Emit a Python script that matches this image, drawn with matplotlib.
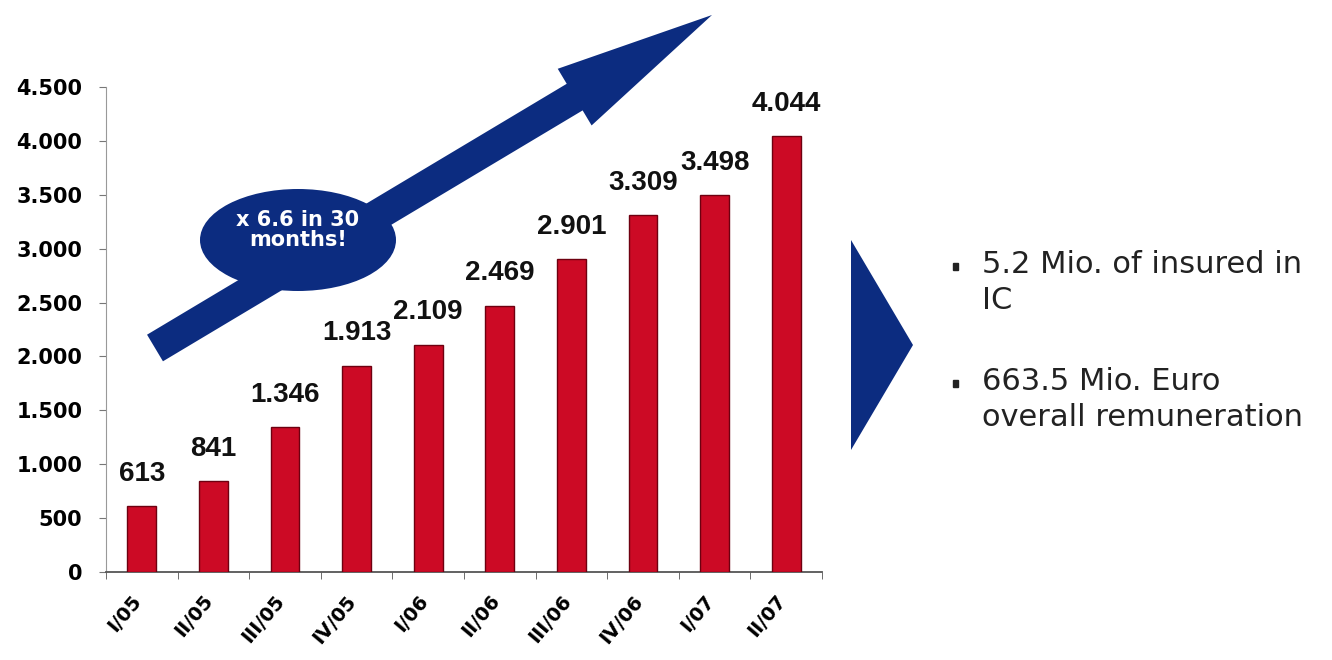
import numpy as np
import matplotlib.pyplot as plt
from matplotlib.patches import Ellipse, FancyArrow, Polygon

# data
quarters = ["I/05", "II/05", "III/05", "IV/05", "I/06", "II/06", "III/06", "IV/06", "I/07", "II/07"]
values = [613, 841, 1346, 1913, 2109, 2469, 2901, 3309, 3498, 4044]
value_labels = ["613", "841", "1.346", "1.913", "2.109", "2.469", "2.901", "3.309", "3.498", "4.044"]
yticks = [0, 500, 1000, 1500, 2000, 2500, 3000, 3500, 4000, 4500]
ytick_labels = ["0", "500", "1.000", "1.500", "2.000", "2.500", "3.000", "3.500", "4.000", "4.500"]
bullets = ["5.2 Mio. of insured in\nIC", "663.5 Mio. Euro\noverall remuneration"]
badge_text = "x 6.6 in 30\nmonths!"

NAVY = "#0c2c80"
RED = "#cc0a25"
arial = ["Liberation Sans", "DejaVu Sans"]
heavy = ["DejaVu Sans"]

fig = plt.figure(figsize=(13.32, 6.6), dpi=100)
ax = fig.add_axes([106 / 1332, 88 / 660, 716 / 1332, 485 / 660])
ax.set_facecolor("none")

x = np.arange(len(quarters))
ax.bar(x, values, width=0.4, color=RED, edgecolor="#6e0010", linewidth=1.0, zorder=3)
for xi, v, lab in zip(x, values, value_labels):
    ax.text(xi, v + 180, lab, ha="center", va="bottom", fontsize=20, fontweight="bold",
            family=arial, color="#111111")

ax.set_xlim(-0.5, len(quarters) - 0.5)
ax.set_ylim(0, 4500)
ax.set_yticks(yticks)
ax.set_yticklabels(ytick_labels, fontsize=15, fontweight="bold", family=heavy)
# labels sit a little left of the bar centres, as in the slide
ax.set_xticks(x - 0.15)
ax.set_xticklabels(quarters, rotation=50, ha="right", rotation_mode="anchor",
                   fontsize=14, fontweight="bold", family=heavy)
ax.set_xticks(np.arange(-0.5, len(quarters), 1), minor=True)
ax.tick_params(axis="x", which="major", length=0, pad=14)
ax.tick_params(axis="x", which="minor", length=5, color="#555555", direction="out")
ax.tick_params(axis="y", length=5, color="#777777", pad=12)
for s in ["top", "right"]:
    ax.spines[s].set_visible(False)
ax.spines["left"].set_color("#999999")
ax.spines["bottom"].set_color("#555555")
ax.spines["bottom"].set_linewidth(1.3)

# overlay in pixel coordinates for decorations
ov = fig.add_axes([0, 0, 1, 1], zorder=5)
ov.set_xlim(0, 1332)
ov.set_ylim(660, 0)
ov.axis("off")
ov.patch.set_visible(False)

tail = np.array([155, 348])
tip = np.array([712, 15])
ov.add_patch(FancyArrow(tail[0], tail[1], tip[0] - tail[0], tip[1] - tail[1], width=31,
                        head_width=66, head_length=160, length_includes_head=True,
                        color=NAVY, linewidth=0))
ov.add_patch(Ellipse((298, 240), 196, 102, color=NAVY, linewidth=0))
ov.text(298, 230, badge_text, ha="center", va="center", color="white", fontsize=15,
        fontweight="bold", family=heavy, linespacing=0.95)

ov.add_patch(Polygon([[851, 240], [913, 345], [851, 450]], closed=True, color=NAVY, linewidth=0))

for yb, txt in zip([263, 380], bullets):
    ov.add_patch(plt.Rectangle((953, yb), 5, 7, color="#222222"))
    ov.text(982, yb - 13, txt, ha="left", va="top", fontsize=22, color="#222222",
            family=["DejaVu Sans"], linespacing=1.3)

fig.savefig("out.png", dpi=100, facecolor="white")
